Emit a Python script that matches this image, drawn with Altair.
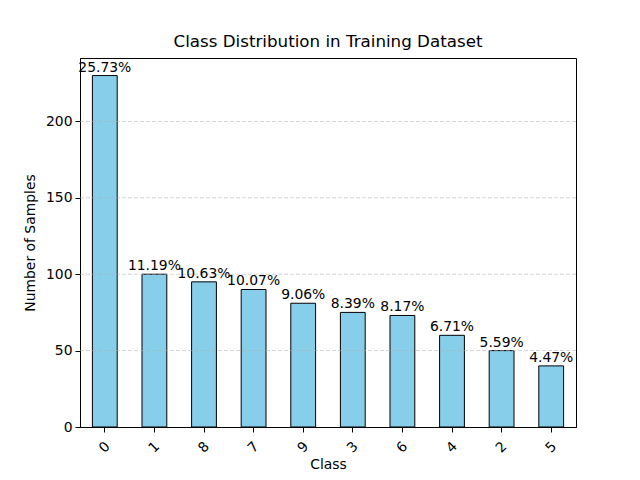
import altair as alt
import pandas as pd

classes = ["0", "1", "8", "7", "9", "3", "6", "4", "2", "5"]
counts = [230, 100, 95, 90, 81, 75, 73, 60, 50, 40]
pct_labels = ["25.73%", "11.19%", "10.63%", "10.07%", "9.06%", "8.39%", "8.17%", "6.71%", "5.59%", "4.47%"]
grid_values = [50, 100, 150, 200]

df = pd.DataFrame({"cls": classes, "count": counts, "pct": pct_labels})
gdf = pd.DataFrame({"g": grid_values})

FONT = "DejaVu Sans"
FS = 13.9

x = alt.X("cls:N", sort=classes, title="Class",
          scale=alt.Scale(paddingInner=0.5, paddingOuter=0.25),
          axis=alt.Axis(labelAngle=-45, labelFontSize=FS, titleFontSize=FS,
                        labelColor="black", titleColor="black", tickColor="black",
                        domainColor="black", tickSize=5, labelPadding=15,
                        titleFontWeight="normal", titlePadding=2, grid=False,
                        labelFont=FONT, titleFont=FONT, labelAlign="center", labelBaseline="middle"))
y_scale = alt.Scale(domain=[0, 241.5], nice=False)
y = alt.Y("count:Q", title="Number of Samples", scale=y_scale,
          axis=alt.Axis(values=[0, 50, 100, 150, 200], labelFontSize=FS, titleFontSize=FS,
                        labelColor="black", titleColor="black", tickColor="black",
                        domainColor="black", tickSize=5, labelPadding=3,
                        titleFontWeight="normal", grid=False, titlePadding=8,
                        labelFont=FONT, titleFont=FONT))

bars = alt.Chart(df).mark_bar(color="#87CEEB", stroke="black", strokeWidth=1).encode(x=x, y=y)
texts = alt.Chart(df).mark_text(baseline="bottom", dy=-1, fontSize=FS, font=FONT, color="black").encode(
    x=alt.X("cls:N", sort=classes), y=alt.Y("count:Q", scale=y_scale), text="pct:N")
grid = alt.Chart(gdf).mark_rule(color="#b0b0b0", strokeDash=[4, 2], strokeWidth=0.8, opacity=0.7).encode(
    y=alt.Y("g:Q", scale=y_scale))

chart = alt.layer(bars, grid, texts).properties(
    width=496, height=369,
    title=alt.TitleParams("Class Distribution in Training Dataset", fontSize=16.7, font=FONT,
                          fontWeight="normal", color="black", offset=7),
    autosize=alt.AutoSizeParams(type="none"),
    padding={"left": 72, "top": 50, "right": 56, "bottom": 45},
).configure_view(stroke="black", strokeWidth=1)

chart.save("out.html", embed_options={"renderer": "svg", "actions": False})
